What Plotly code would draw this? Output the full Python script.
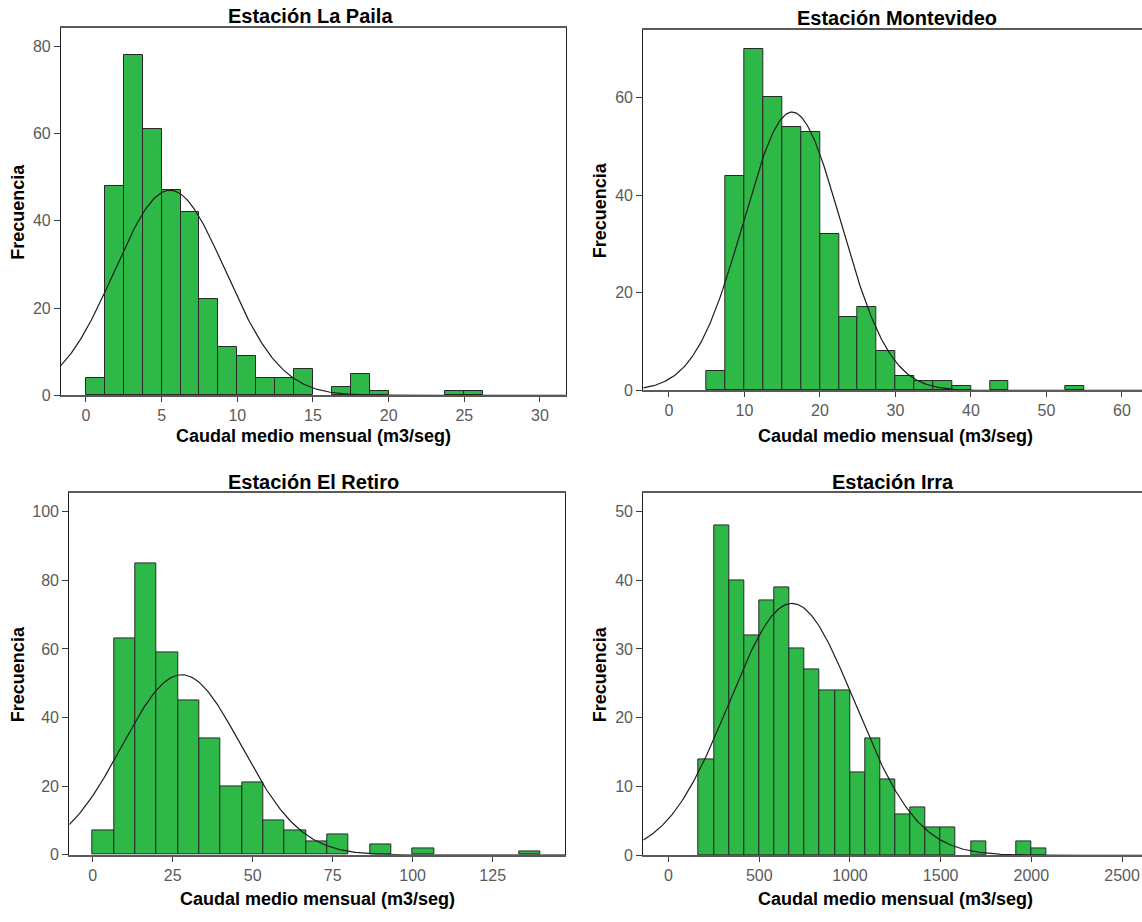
import numpy as np
import plotly.graph_objects as go

# ---- Data: monthly mean discharge histograms (m3/seg) ----
stations = ["Estación La Paila", "Estación Montevideo", "Estación El Retiro", "Estación Irra"]

paila_start = 0.0
paila_width = 1.25
paila_counts = [4, 48, 78, 61, 47, 42, 22, 11, 9, 4, 4, 6, 0, 2, 5, 1, 0, 0, 0, 1, 1]
paila_mean = 5.55
paila_sd = 3.67

monte_start = 5.0
monte_width = 2.5
monte_counts = [4, 44, 70, 60, 54, 53, 32, 15, 17, 8, 3, 2, 2, 1, 0, 2, 0, 0, 0, 1]
monte_mean = 16.3
monte_sd = 6.44

retiro_start = 0.0
retiro_width = 20.0 / 3.0
retiro_counts = [7, 63, 85, 59, 45, 34, 20, 21, 10, 7, 4, 6, 0, 3, 0, 2, 0, 0, 0, 0, 1]
retiro_mean = 27.8
retiro_sd = 18.6

irra_start = 500.0 / 3.0
irra_width = 250.0 / 3.0
irra_counts = [14, 48, 40, 32, 37, 39, 30, 27, 24, 24, 12, 17, 11, 6, 7, 4, 4, 0, 2, 0, 0, 2, 1]
irra_mean = 680.0
irra_sd = 346.0

x_ticks = [
    [0, 5, 10, 15, 20, 25, 30],
    [0, 10, 20, 30, 40, 50, 60],
    [0, 25, 50, 75, 100, 125],
    [0, 500, 1000, 1500, 2000, 2500],
]
y_ticks = [
    [0, 20, 40, 60, 80],
    [0, 20, 40, 60],
    [0, 20, 40, 60, 80, 100],
    [0, 10, 20, 30, 40, 50],
]

series = [
    (paila_start, paila_width, paila_counts, paila_mean, paila_sd),
    (monte_start, monte_width, monte_counts, monte_mean, monte_sd),
    (retiro_start, retiro_width, retiro_counts, retiro_mean, retiro_sd),
    (irra_start, irra_width, irra_counts, irra_mean, irra_sd),
]

# ---- Layout geometry (figure is 1142 x 922 px) ----
W, H = 1142, 922
x_ranges = [[-1.65, 31.7], [-3.4, 62.65], [-7.3, 147.6], [-139, 2610]]
y_ranges = [[0, 84.2], [0, 73.8], [0, 105.3], [0, 52.6]]
# plot areas in pixels: left, right, top, bottom
boxes = [
    (61, 565.7, 28.3, 399.3),
    (643.3, 1142, 30.3, 394.3),
    (69.3, 565, 498.3, 863.3),
    (643.3, 1142, 498.3, 863.7),
]
title_y = [16, 18, 487, 487]
title_x = [310, 897, 313, 893]
xlab_y = [440, 440, 908, 908]
xlab_x = [313, 895, 317, 895]
ylab_x = [18, 600, 18, 600]

BAR_GREEN = "rgb(46,184,72)"
EDGE = "rgb(40,40,40)"
FONT = "Liberation Sans, Arial, sans-serif"

fig = go.Figure()
layout = dict(
    width=W, height=H,
    margin=dict(l=0, r=0, t=0, b=0),
    paper_bgcolor="white", plot_bgcolor="white",
    showlegend=False,
    font=dict(family=FONT),
)
annotations = []

for i, (start, width, counts, mean, sd) in enumerate(series):
    ax = "" if i == 0 else str(i + 1)
    xa, ya = "x" + ax, "y" + ax
    counts = np.array(counts, dtype=float)
    lefts = start + width * np.arange(len(counts))
    keep = counts > 0
    fig.add_trace(go.Bar(
        x=lefts[keep] + width / 2, y=counts[keep], width=width,
        marker=dict(color=BAR_GREEN, line=dict(color=EDGE, width=1)),
        xaxis=xa, yaxis=ya, hoverinfo="x+y",
    ))
    # fitted normal curve scaled to counts
    n = counts.sum()
    xs = np.linspace(x_ranges[i][0], x_ranges[i][1], 400)
    ys = n * width / (sd * np.sqrt(2 * np.pi)) * np.exp(-0.5 * ((xs - mean) / sd) ** 2)
    fig.add_trace(go.Scatter(
        x=xs, y=ys, mode="lines", line=dict(color="rgb(30,30,30)", width=1.2),
        xaxis=xa, yaxis=ya, hoverinfo="skip",
    ))

    l, r, t, b = boxes[i]
    right_col = i in (1, 3)
    layout["xaxis" + ax] = dict(
        domain=[l / W, r / W], range=x_ranges[i], anchor=ya,
        tickvals=x_ticks[i], ticktext=[str(v) for v in x_ticks[i]],
        ticks="outside", ticklen=5, tickcolor="rgb(60,60,60)",
        tickfont=dict(size=16, color="rgb(90,90,90)", family=FONT),
        showline=True, linecolor="rgb(90,90,90)", linewidth=1.5, mirror=True,
        showgrid=False, zeroline=False, fixedrange=True,
    )
    layout["yaxis" + ax] = dict(
        domain=[1 - b / H, 1 - t / H], range=y_ranges[i], anchor=xa,
        tickvals=y_ticks[i], ticktext=[str(v) for v in y_ticks[i]],
        ticks="outside", ticklen=6, tickcolor="rgb(60,60,60)",
        tickfont=dict(size=16, color="rgb(90,90,90)", family=FONT),
        showline=True, linecolor="rgb(30,30,30)", linewidth=1.2,
        mirror=not right_col,
        showgrid=False, zeroline=False, fixedrange=True,
    )
    annotations.append(dict(
        text="<b>%s</b>" % stations[i], x=title_x[i] / W, y=1 - title_y[i] / H,
        xref="paper", yref="paper", xanchor="center", yanchor="middle",
        showarrow=False, font=dict(size=20, color="black", family=FONT),
    ))
    annotations.append(dict(
        text="<b>Caudal medio mensual (m3/seg)</b>", x=xlab_x[i] / W,
        y=1 - xlab_y[i] / H,
        xref="paper", yref="paper", xanchor="center", yanchor="middle",
        showarrow=False, font=dict(size=18, color="black", family=FONT),
    ))
    annotations.append(dict(
        text="<b>Frecuencia</b>", x=ylab_x[i] / W, y=1 - (t + b) / 2 / H,
        xref="paper", yref="paper", xanchor="center", yanchor="middle",
        textangle=-90, showarrow=False,
        font=dict(size=18, color="black", family=FONT),
    ))

layout["annotations"] = annotations
layout["bargap"] = 0
fig.update_layout(**layout)
fig.write_html("out.html")
